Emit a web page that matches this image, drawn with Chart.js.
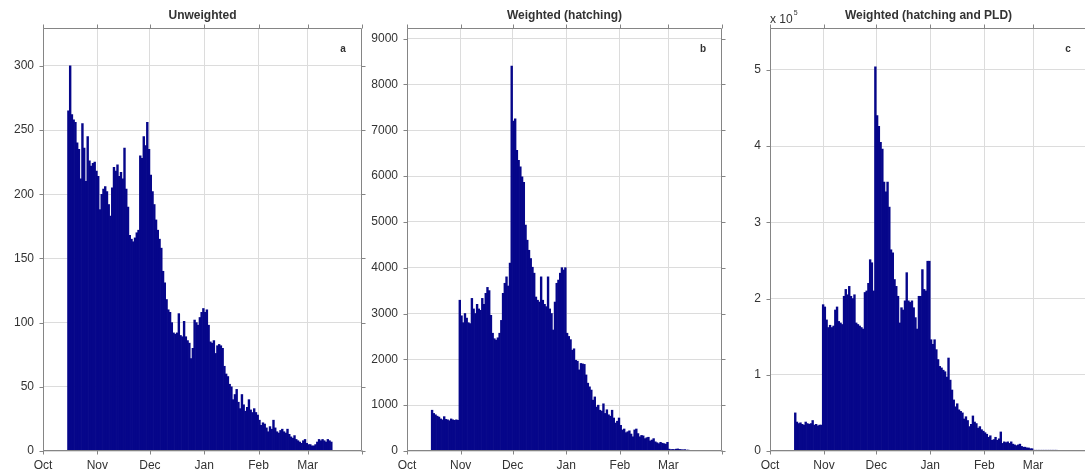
<!DOCTYPE html>
<html>
<head>
<meta charset="utf-8">
<script src="https://cdn.jsdelivr.net/npm/chart.js@4/dist/chart.umd.min.js"></script>
<style>
    html, body { margin: 0; padding: 0; background: #fff; overflow: hidden; width: 1085px; height: 470px; }
    .panel { position: absolute; top: 0; height: 470px; }
</style>
</head>
<body>
<div class="panel" style="left:0; width:372px"><canvas id="chartA"></canvas></div>
<div class="panel" style="left:365px; width:367px"><canvas id="chartB"></canvas></div>
<div class="panel" style="left:728px; width:370px"><canvas id="chartC"></canvas></div>
<script>
// Season axis: days counted from 1 Oct, ticks at the first of each month
const monthNames = ['Oct', 'Nov', 'Dec', 'Jan', 'Feb', 'Mar'];
const monthStarts = [0, 31, 61, 92, 123, 151];
const seasonEnd = 182;

// First bar of every series is 15 Oct (day 14)
const firstDay = 14;

// Daily totals, 15 Oct .. 13 Mar
const unweighted = [
    265, 300, 262, 258, 256, 240, 235, 212, 255, 236, 210, 245, 226, 222, 224, 225, 218, 214, 188, 200,
    204, 206, 202, 192, 183, 205, 221, 218, 223, 214, 217, 212, 236, 204, 190, 168, 165, 163, 166, 170,
    172, 230, 228, 245, 238, 256, 235, 215, 202, 192, 180, 172, 165, 158, 140, 131, 118, 110, 108, 100,
    92, 91, 92, 107, 90, 89, 101, 89, 86, 84, 72, 80, 102, 100, 98, 104, 108, 111, 108, 110,
    98, 85, 84, 86, 76, 82, 83, 82, 80, 66, 60, 58, 52, 50, 40, 44, 48, 38, 33, 44,
    36, 31, 34, 40, 32, 30, 33, 30, 28, 24, 20, 22, 21, 18, 15, 19, 17, 24, 18, 15,
    14, 16, 17, 15, 14, 17, 13, 11, 10, 12, 9, 8, 7, 6, 8, 9, 6, 5, 5, 4,
    4, 5, 7, 9, 8, 9, 8, 7, 9, 8, 7
];

const weightedHatching = [
    890, 820, 790, 760, 740, 700, 680, 750, 690, 680, 660, 700, 680, 670, 680, 670, 3290, 2950, 2800, 3000,
    2900, 2800, 2780, 3330, 3100, 3000, 3200, 3100, 3070, 3330, 3200, 3440, 3570, 3500, 2960, 2570, 2450, 2420, 2470, 2570,
    2850, 3440, 3660, 3800, 3600, 4100, 8400, 7200, 7250, 6560, 6340, 6200, 5980, 5860, 4930, 4600, 4380, 4200, 4010, 3880,
    3360, 3290, 3250, 3800, 3290, 3200, 3150, 3800, 3100, 3000, 2640, 3250, 3660, 3730, 3880, 4000, 3950, 4000, 2570, 2500,
    2430, 2200, 2230, 1980, 1960, 1770, 1910, 1900, 1890, 1660, 1480, 1400, 1330, 1110, 1180, 960, 1000, 890, 870, 1030,
    820, 900, 790, 760, 890, 720, 610, 650, 720, 560, 460, 480, 400, 420, 440, 370, 310, 460, 480, 380,
    310, 340, 330, 270, 290, 300, 220, 240, 270, 200, 180, 160, 190, 170, 160, 150, 190, 40, 30, 35,
    30, 40, 45, 35, 30, 25, 30, 20, 20, 15, 10
];

// x 10^5
const weightedHatchingPld = [
    0.50, 0.38, 0.36, 0.37, 0.35, 0.34, 0.38, 0.36, 0.35, 0.36, 0.40, 0.34, 0.35, 0.33, 0.34, 0.34, 1.92, 1.89, 1.72, 1.62,
    1.65, 1.62, 1.64, 1.85, 1.89, 1.70, 1.68, 1.66, 2.03, 2.12, 2.05, 2.16, 2.03, 2.00, 2.05, 1.68, 1.66, 1.64, 1.62, 1.60,
    2.08, 2.10, 2.20, 2.51, 2.47, 2.10, 5.04, 4.40, 4.26, 4.05, 3.96, 3.53, 3.40, 3.53, 3.20, 2.64, 2.60, 2.25, 2.16, 2.03,
    1.68, 1.88, 1.85, 1.97, 2.34, 1.97, 1.95, 1.97, 1.88, 1.75, 1.60, 2.03, 2.03, 2.38, 2.12, 2.10, 2.49, 2.49, 1.46, 1.40,
    1.46, 1.33, 1.20, 1.11, 1.09, 1.06, 1.04, 0.97, 1.22, 0.93, 0.80, 0.67, 0.58, 0.62, 0.54, 0.52, 0.50, 0.42, 0.45, 0.40,
    0.32, 0.35, 0.46, 0.38, 0.36, 0.30, 0.32, 0.28, 0.26, 0.24, 0.22, 0.18, 0.20, 0.14, 0.15, 0.18, 0.14, 0.16, 0.25, 0.10,
    0.12, 0.11, 0.12, 0.10, 0.12, 0.09, 0.08, 0.07, 0.08, 0.09, 0.06, 0.05, 0.05, 0.04, 0.04, 0.03, 0.03, 0.01, 0.01, 0.01,
    0.01, 0.01, 0.01, 0.01, 0.01, 0.01, 0.01, 0.01, 0.01, 0.01, 0.01
];

// y tick labels per panel
const unweightedTicks = [0, 50, 100, 150, 200, 250, 300];
const hatchingTicks = [0, 1000, 2000, 3000, 4000, 5000, 6000, 7000, 8000, 9000];
const pldTicks = [0, 1, 2, 3, 4, 5];

const barColor = '#06068a';
const gridColor = '#dcdcdc';
const axisColor = '#858585';
const textColor = '#333';
const fontFamily = "'Liberation Sans', Arial, sans-serif";

// Box, outward ticks on all four sides, title and panel letter
const framePlugin = {
    id: 'frame',
    afterDraw(chart, args, opts) {
        const { ctx, chartArea: a, scales: { x, y } } = chart;
        const L = Math.round(a.left) + 0.5, R = Math.round(a.right) - 0.5;
        const T = Math.round(a.top) + 0.5, B = Math.round(a.bottom) - 0.5;
        const len = 4;
        ctx.save();
        ctx.strokeStyle = axisColor;
        ctx.lineWidth = 1;
        ctx.beginPath();
        ctx.rect(L, T, R - L, B - T);
        [...monthStarts, seasonEnd].forEach(v => {
            const px = Math.round(x.getPixelForValue(v)) + 0.5;
            ctx.moveTo(px, T - len); ctx.lineTo(px, T);
            ctx.moveTo(px, B); ctx.lineTo(px, B + len);
        });
        opts.yTicks.forEach(v => {
            const py = Math.round(y.getPixelForValue(v)) + 0.5;
            ctx.moveTo(L - len, py); ctx.lineTo(L, py);
            ctx.moveTo(R, py); ctx.lineTo(R + len, py);
        });
        ctx.stroke();

        ctx.fillStyle = textColor;
        ctx.textBaseline = 'middle';
        ctx.textAlign = 'center';
        ctx.font = 'bold 12px ' + fontFamily;
        ctx.fillText(opts.title, (a.left + a.right) / 2, 16);
        ctx.font = 'bold 10px ' + fontFamily;
        ctx.fillText(opts.letter, a.right - 19, 49);

        if (opts.exponent) {
            ctx.textAlign = 'left';
            ctx.font = '12px ' + fontFamily;
            ctx.fillText('x 10', a.left, 20);
            const w = ctx.measureText('x 10').width;
            ctx.font = '7px ' + fontFamily;
            ctx.fillText(opts.exponent, a.left + w + 1, 13);
        }
        ctx.restore();
    }
};

function makePanel(canvasId, values, yMax, yTicks, axisWidth, padRight, frame) {
    const points = values.map((v, i) => ({ x: firstDay + i + 0.5, y: v }));
    const tickFont = { family: fontFamily, size: 12 };

    return new Chart(document.getElementById(canvasId), {
        type: 'bar',
        data: {
            datasets: [{
                data: points,
                backgroundColor: barColor,
                borderWidth: 0,
                barPercentage: 1,
                categoryPercentage: 1
            }]
        },
        options: {
            responsive: true,
            maintainAspectRatio: false,
            animation: false,
            layout: { padding: { top: 28, right: padRight, left: 0, bottom: 0 } },
            plugins: {
                legend: { display: false },
                tooltip: { enabled: false },
                frame: Object.assign({ yTicks }, frame)
            },
            scales: {
                x: {
                    type: 'linear',
                    min: 0,
                    max: seasonEnd,
                    offset: false,
                    afterBuildTicks: s => { s.ticks = monthStarts.map(v => ({ value: v })); },
                    afterFit: s => { s.height = 19; },
                    ticks: {
                        callback: (v, i) => monthNames[i],
                        font: tickFont,
                        color: textColor,
                        padding: 7,
                        maxRotation: 0,
                        autoSkip: false
                    },
                    grid: { color: gridColor, drawTicks: false, offset: false },
                    border: { display: false }
                },
                y: {
                    min: 0,
                    max: yMax,
                    afterBuildTicks: s => { s.ticks = yTicks.map(v => ({ value: v })); },
                    afterFit: s => { s.width = axisWidth; },
                    ticks: {
                        callback: v => String(v),
                        font: tickFont,
                        color: textColor,
                        padding: 9
                    },
                    grid: { color: gridColor, drawTicks: false },
                    border: { display: false }
                }
            }
        },
        plugins: [framePlugin]
    });
}

makePanel('chartA', unweighted, 329.5, unweightedTicks, 43, 10, { title: 'Unweighted', letter: 'a' });
makePanel('chartB', weightedHatching, 9230, hatchingTicks, 42, 10, { title: 'Weighted (hatching)', letter: 'b' });
makePanel('chartC', weightedHatchingPld, 5.55, pldTicks, 42, 11, { title: 'Weighted (hatching and PLD)', letter: 'c', exponent: '5' });
</script>
</body>
</html>
